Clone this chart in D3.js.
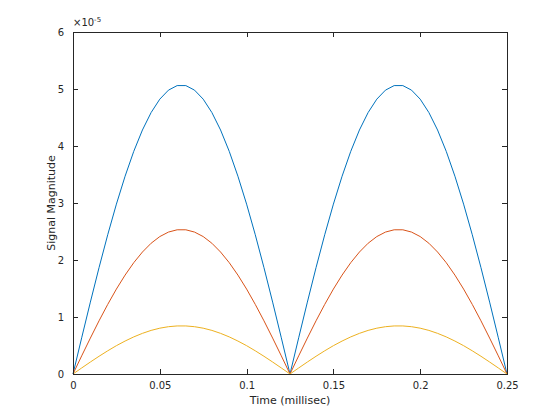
<!DOCTYPE html>
<html><head><meta charset="utf-8">
<script src="https://cdn.jsdelivr.net/npm/d3@7"></script>
<style>body{margin:0;background:#fff}svg text{font-family:"DejaVu Sans",sans-serif}</style>
</head><body><svg id="c" width="560" height="420"></svg>
<script>
// time samples (millisec)
const times = [0,0.005,0.01,0.015,0.02,0.025,0.03,0.035,0.04,0.045,0.05,0.055,0.06,0.065,0.07,0.075,0.08,0.085,0.09,0.095,0.1,0.105,0.11,0.115,0.12,0.125,
0.13,0.135,0.14,0.145,0.15,0.155,0.16,0.165,0.17,0.175,0.18,0.185,0.19,0.195,0.2,0.205,0.21,0.215,0.22,0.225,0.23,0.235,0.24,0.245,0.25];
// signal magnitudes, units of 1e-5
const seriesA = [0,0.635,1.261,1.866,2.443,2.980,3.470,3.906,4.281,4.587,4.822,4.980,5.060,5.060,4.980,4.822,4.587,4.281,3.906,3.470,2.980,2.443,1.866,1.261,0.635,0,
0.635,1.261,1.866,2.443,2.980,3.470,3.906,4.281,4.587,4.822,4.980,5.060,5.060,4.980,4.822,4.587,4.281,3.906,3.470,2.980,2.443,1.866,1.261,0.635,0];
const seriesB = [0,0.318,0.630,0.933,1.221,1.490,1.735,1.953,2.140,2.294,2.411,2.490,2.530,2.530,2.490,2.411,2.294,2.140,1.953,1.735,1.490,1.221,0.933,0.630,0.318,0,
0.318,0.630,0.933,1.221,1.490,1.735,1.953,2.140,2.294,2.411,2.490,2.530,2.530,2.490,2.411,2.294,2.140,1.953,1.735,1.490,1.221,0.933,0.630,0.318,0];
const seriesC = [0,0.106,0.210,0.311,0.407,0.497,0.578,0.651,0.713,0.765,0.804,0.830,0.843,0.843,0.830,0.804,0.765,0.713,0.651,0.578,0.497,0.407,0.311,0.210,0.106,0,
0.106,0.210,0.311,0.407,0.497,0.578,0.651,0.713,0.765,0.804,0.830,0.843,0.843,0.830,0.804,0.765,0.713,0.651,0.578,0.497,0.407,0.311,0.210,0.106,0];
const xTicks = [0,0.05,0.1,0.15,0.2,0.25];
const xTickLabels = ["0","0.05","0.1","0.15","0.2","0.25"];
const yTicks = [0,1,2,3,4,5,6];
const yTickLabels = ["0","1","2","3","4","5","6"];
const colors = ["#0072BD","#D95319","#EDB120"];

const svg = d3.select("#c");
const L=73, R=507, T=32, B=374;
const x = d3.scaleLinear().domain([0,0.25]).range([L,R]);
const y = d3.scaleLinear().domain([0,6]).range([B,T]);
const ax = "#262626";

const line = d3.line().x((d,i)=>x(times[i])).y(d=>y(d));
[seriesA,seriesB,seriesC].forEach((s,i)=>{
  svg.append("path").attr("d",line(s)).attr("fill","none").attr("stroke",colors[i]).attr("stroke-width",1);
});

const tl=5;
const gB = svg.append("g").attr("transform",`translate(0,${B})`)
  .call(d3.axisBottom(x).tickValues(xTicks).tickFormat((d,i)=>xTickLabels[i]).tickSizeInner(-tl).tickSizeOuter(0).tickPadding(8));
const gT = svg.append("g").attr("transform",`translate(0,${T})`)
  .call(d3.axisTop(x).tickValues(xTicks).tickFormat("").tickSizeInner(-tl).tickSizeOuter(0));
const gL = svg.append("g").attr("transform",`translate(${L},0)`)
  .call(d3.axisLeft(y).tickValues(yTicks).tickFormat((d,i)=>yTickLabels[i]).tickSizeInner(-tl).tickSizeOuter(0).tickPadding(9));
const gR = svg.append("g").attr("transform",`translate(${R},0)`)
  .call(d3.axisRight(y).tickValues(yTicks).tickFormat("").tickSizeInner(-tl).tickSizeOuter(0));
[gB,gT,gL,gR].forEach(g=>{
  g.selectAll("path,line").attr("stroke",ax).attr("stroke-width",1).attr("shape-rendering","crispEdges");
  g.selectAll("text").attr("fill",ax).attr("font-size",10).attr("font-family","DejaVu Sans, sans-serif");
});

svg.append("text").attr("x",(L+R)/2).attr("y",404).attr("text-anchor","middle")
  .attr("font-size",11).attr("fill",ax).text("Time (millisec)");
svg.append("text").attr("transform",`translate(55,${(T+B)/2}) rotate(-90)`).attr("text-anchor","middle")
  .attr("font-size",11).attr("fill",ax).text("Signal Magnitude");
const ex = svg.append("text").attr("x",73).attr("y",26).attr("font-size",10).attr("fill",ax);
ex.append("tspan").text("×10");
ex.append("tspan").attr("font-size",7).attr("dy",-4).text("-5");
</script></body></html>
